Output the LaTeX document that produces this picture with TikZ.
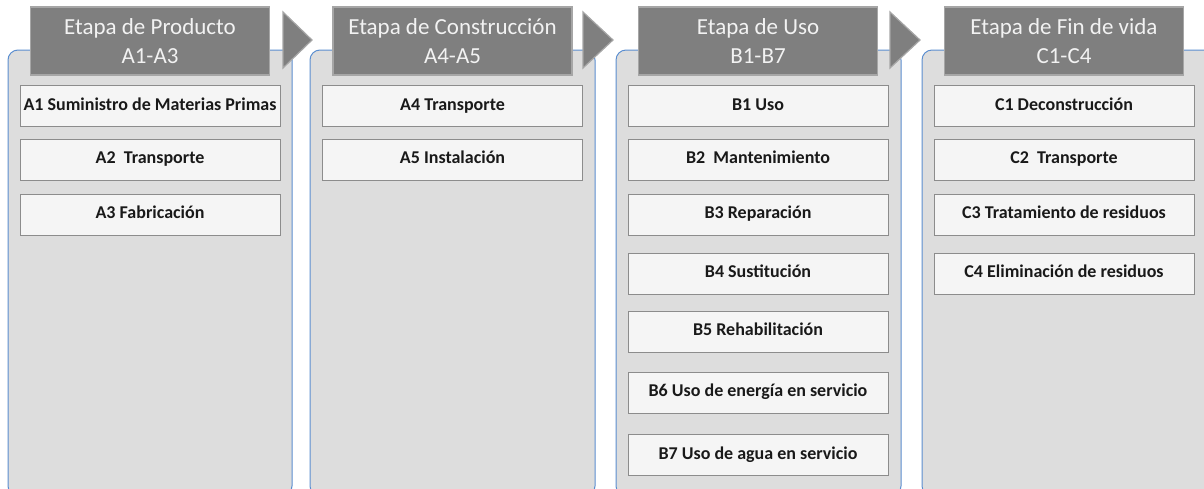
\documentclass[tikz,border=0pt]{standalone}
\usepackage{fontspec}
\setmainfont{Carlito}
\usepackage{xcolor}
\definecolor{panelfill}{HTML}{DDDDDD}
\definecolor{panelline}{HTML}{5B8ED0}
\definecolor{headfill}{HTML}{7F7F7F}
\definecolor{headline}{HTML}{A6A6A6}
\definecolor{boxfill}{HTML}{F5F5F5}
\definecolor{boxline}{HTML}{8C8C8C}

\begin{document}
\begin{tikzpicture}[x=1pt, y=-1pt,
        panel/.style={fill=panelfill, draw=panelline, line width=1pt, rounded corners=10pt},
        stage/.style={fill=headfill, draw=headline, line width=1.2pt, text=white!95!black, minimum width=239pt, minimum height=68pt, inner sep=0pt, align=center, font=\fontsize{23}{28.5}\selectfont},
        item/.style={fill=boxfill, draw=boxline, line width=0.8pt, minimum width=260pt, minimum height=41pt, inner sep=0pt, text height=12pt, text depth=4pt, text=black!90, font=\bfseries\fontsize{18}{21}\selectfont},
        chevron/.style={fill=headfill, draw=headline, line width=1.2pt}]
        \useasboundingbox (0, 0) rectangle (1204, 488);

        % columns behind
        \begin{scope}
            \clip (0, 0) rectangle (1204, 488);
            \draw[panel] (8, 496) rectangle (292, 50);
            \draw[panel] (310, 496) rectangle (595, 50);
            \draw[panel] (616, 496) rectangle (901, 50);
            \draw[panel] (922, 496) rectangle (1220, 50);
        \end{scope}

        % arrows between stages
        \draw[chevron] (283, 12) -- (312, 40) -- (283, 68) -- cycle;
        \draw[chevron] (583, 12) -- (613, 40) -- (583, 68) -- cycle;
        \draw[chevron] (890, 12) -- (920, 40) -- (890, 68) -- cycle;

        % stage headers
        \node[stage] (prod) at (150, 41) {Etapa de Producto\\A1-A3};
        \node[stage] (cons) at (452.5, 41) {Etapa de Construcción\\A4-A5};
        \node[stage] (uso) at (758, 41) {Etapa de Uso\\B1-B7};
        \node[stage] (fin) at (1064, 41) {Etapa de Fin de vida\\C1-C4};

        \node[item] (a1) at (150, 106) {A1 Suministro de Materias Primas};
        \node[item] (a2) at (150, 159.5) {A2~ Transporte};
        \node[item] (a3) at (150, 214.5) {A3 Fabricación};

        \node[item] (a4) at (452.5, 106) {A4 Transporte};
        \node[item] (a5) at (452.5, 159.5) {A5 Instalación};

        \node[item] (b1) at (758, 106) {B1 Uso};
        \node[item] (b2) at (758, 159.5) {B2~ Mantenimiento};
        \node[item] (b3) at (758, 214.5) {B3 Reparación};
        \node[item] (b4) at (758, 273.5) {B4 Sustitución};
        \node[item] (b5) at (758, 331.5) {B5 Rehabilitación};
        \node[item] (b6) at (758, 392.5) {B6 Uso de energía en servicio};
        \node[item] (b7) at (758, 455) {B7 Uso de agua en servicio};

        \node[item] (c1) at (1064, 106) {C1 Deconstrucción};
        \node[item] (c2) at (1064, 159.5) {C2~ Transporte};
        \node[item] (c3) at (1064, 214.5) {C3 Tratamiento de residuos};
        \node[item] (c4) at (1064, 273.5) {C4 Eliminación de residuos};
    \end{tikzpicture}
\end{document}
